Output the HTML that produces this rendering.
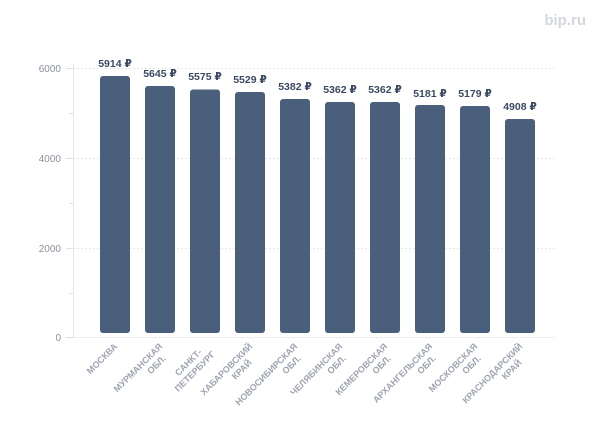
<!DOCTYPE html>
<html><head><meta charset="utf-8"><style>body{margin:0;background:#fff}svg{display:block}</style></head>
<body>
<svg width="600" height="427" xmlns="http://www.w3.org/2000/svg" font-family="Liberation Sans, DejaVu Sans, sans-serif">
<text x="586" y="25" text-anchor="end" font-size="15" font-weight="bold" fill="#d4d7dd">bip.ru</text>
<g stroke="#e4e6ea" stroke-dasharray="2,2" stroke-width="1">
<line x1="73" y1="68.5" x2="555" y2="68.5"/>
<line x1="73" y1="158.5" x2="555" y2="158.5"/>
<line x1="73" y1="248.5" x2="555" y2="248.5"/>
</g>
<line x1="73.5" y1="64" x2="73.5" y2="337" stroke="#e4e6ea"/>
<line x1="73" y1="337.5" x2="555" y2="337.5" stroke="#eceef1"/>
<g stroke="#dfe1e5">
<line x1="66" y1="68.5" x2="73" y2="68.5"/><line x1="66" y1="158.5" x2="73" y2="158.5"/><line x1="66" y1="248.5" x2="73" y2="248.5"/><line x1="66" y1="337.5" x2="73" y2="337.5"/>
<line x1="69" y1="113.5" x2="73" y2="113.5"/><line x1="69" y1="203.5" x2="73" y2="203.5"/><line x1="69" y1="293.5" x2="73" y2="293.5"/>
</g>
<g font-size="10" fill="#8a909c" text-anchor="end">
<text x="61" y="72">6000</text><text x="61" y="162">4000</text><text x="61" y="252">2000</text><text x="61" y="341">0</text>
</g>
<g fill="#4a5f7c">
<rect x="100" y="76" width="30" height="257" rx="3"/>
<rect x="145" y="86" width="30" height="247" rx="3"/>
<rect x="190" y="89.5" width="30" height="243.5" rx="3"/>
<rect x="235" y="92" width="30" height="241" rx="3"/>
<rect x="280" y="99" width="30" height="234" rx="3"/>
<rect x="325" y="102" width="30" height="231" rx="3"/>
<rect x="370" y="102" width="30" height="231" rx="3"/>
<rect x="415" y="105" width="30" height="228" rx="3"/>
<rect x="460" y="106" width="30" height="227" rx="3"/>
<rect x="505" y="119" width="30" height="214" rx="3"/>
</g>
<g font-size="10.5" font-weight="bold" fill="#3b4a63" text-anchor="middle">
<text x="115" y="67">5914 ₽</text><text x="160" y="77">5645 ₽</text><text x="205" y="80">5575 ₽</text><text x="250" y="83">5529 ₽</text><text x="295" y="90">5382 ₽</text><text x="340" y="93">5362 ₽</text><text x="385" y="93">5362 ₽</text><text x="430" y="97">5181 ₽</text><text x="475" y="97">5179 ₽</text><text x="520" y="110">4908 ₽</text>
</g>
<g font-size="9" font-weight="bold" fill="#9ea4b1" text-anchor="end">
<text transform="translate(118,347) rotate(-45)">МОСКВА</text>
<text transform="translate(163,347) rotate(-45)"><tspan x="0" y="0">МУРМАНСКАЯ</tspan><tspan x="-6" y="11">ОБЛ.</tspan></text>
<text transform="translate(208,347) rotate(-45)"><tspan x="-8" y="0">САНКТ-</tspan><tspan x="0" y="11">ПЕТЕРБУРГ</tspan></text>
<text transform="translate(253,347) rotate(-45)"><tspan x="0" y="0">ХАБАРОВСКИЙ</tspan><tspan x="-12" y="11">КРАЙ</tspan></text>
<text transform="translate(298,347) rotate(-45)"><tspan x="0" y="0">НОВОСИБИРСКАЯ</tspan><tspan x="-6" y="11">ОБЛ.</tspan></text>
<text transform="translate(343,347) rotate(-45)"><tspan x="0" y="0">ЧЕЛЯБИНСКАЯ</tspan><tspan x="-6" y="11">ОБЛ.</tspan></text>
<text transform="translate(388,347) rotate(-45)"><tspan x="0" y="0">КЕМЕРОВСКАЯ</tspan><tspan x="-6" y="11">ОБЛ.</tspan></text>
<text transform="translate(433,347) rotate(-45)"><tspan x="0" y="0">АРХАНГЕЛЬСКАЯ</tspan><tspan x="-6" y="11">ОБЛ.</tspan></text>
<text transform="translate(478,347) rotate(-45)"><tspan x="0" y="0">МОСКОВСКАЯ</tspan><tspan x="-6" y="11">ОБЛ.</tspan></text>
<text transform="translate(523,347) rotate(-45)"><tspan x="0" y="0">КРАСНОДАРСКИЙ</tspan><tspan x="-12" y="11">КРАЙ</tspan></text>
</g>
</svg>
</body></html>
